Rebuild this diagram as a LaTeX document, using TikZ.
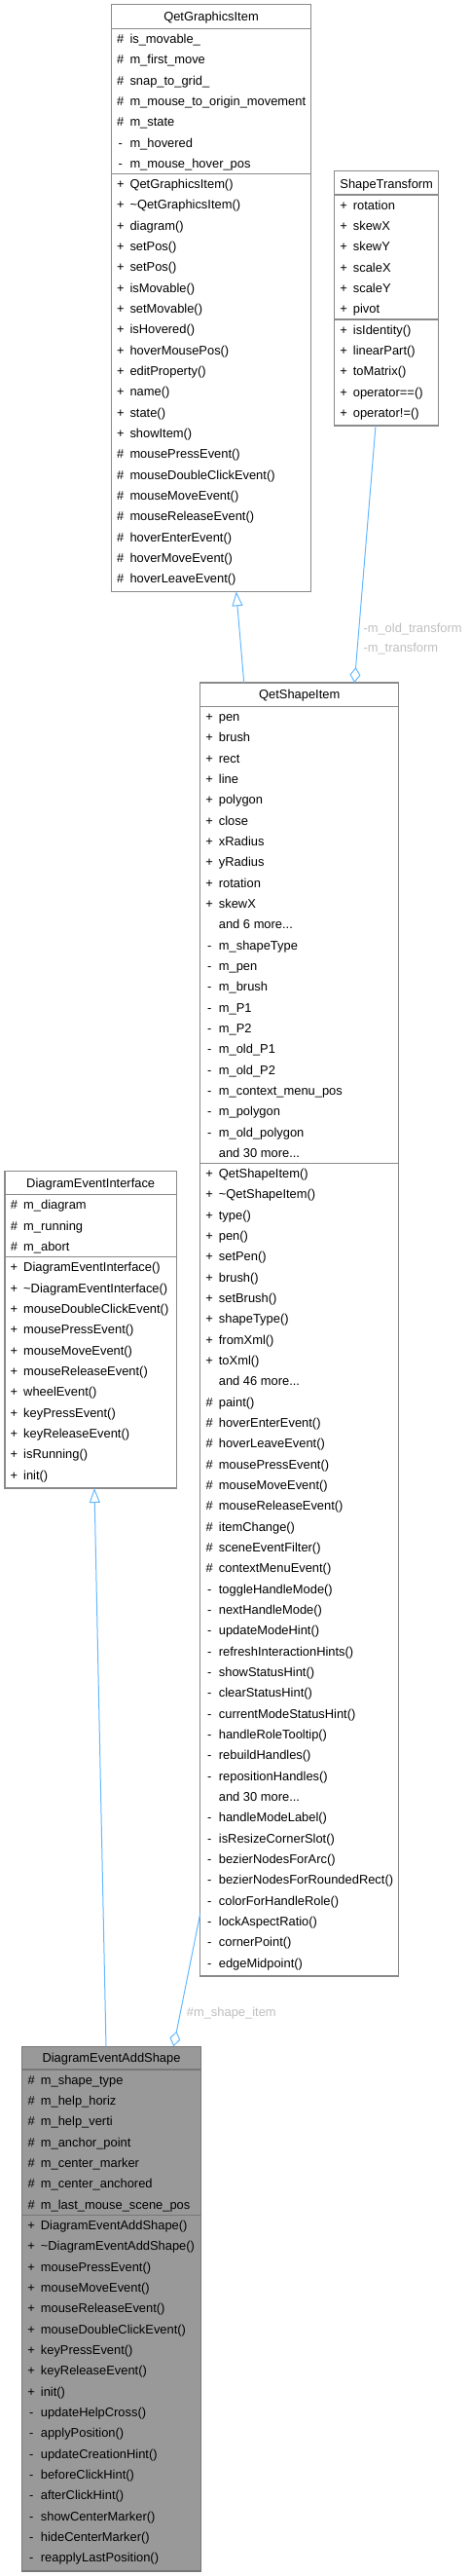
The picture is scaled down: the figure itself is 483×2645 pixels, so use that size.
\documentclass[tikz,border=0pt]{standalone}
\usepackage{fontspec}
\setmainfont{Liberation Sans}
\usetikzlibrary{arrows.meta,calc}
\definecolor{edgeblue}{HTML}{63B8FF}
\definecolor{bord}{HTML}{8A8A8A}
\definecolor{lblgray}{HTML}{BEBEBE}
\definecolor{focusfill}{HTML}{999999}
\definecolor{focusbord}{HTML}{777777}
\newcommand\umlbox[9]{% name, x1, y1, x2, y2, sep1, sep2, fill, border
  \node[classbox, fill=#8, draw=#9, minimum width={#4-#2}, minimum height={#5-#3}] (#1) at ({(#2+#4)/2},{(#3+#5)/2}) {};
  \draw[draw=#9, line width=1.3pt] (#1.west |- 0,#6) -- (#1.east |- 0,#6);
  \draw[draw=#9, line width=1.3pt] (#1.west |- 0,#7) -- (#1.east |- 0,#7);
}
\newcommand\umltitle[4]{% name, center x, center y, text
  \node[ttl] (#1) at (#2,{#3+4.6}) {#4};
}
\newcommand\umlrows[4]{% prefix, left x, start y, list
  \foreach \s/\t [count=\i from 0] in {#4} {
    \node[symtxt] (#1-s\i) at ({#2+9.5},{#3+\i*21.33+10.67+4.6}) {\s};
    \node[rowtxt] (#1-t\i) at ({#2+19},{#3+\i*21.33+10.67+4.6}) {\t};
  }
}
\begin{document}
\begin{tikzpicture}[x=1pt,y=-1pt,
  font=\fontsize{12.9}{15}\selectfont,
  classbox/.style={rectangle, inner sep=0pt, outer sep=0pt, line width=1.3pt},
  ttl/.style={anchor=base, inner sep=0pt, text=black},
  symtxt/.style={anchor=base, inner sep=0pt, text=black},
  rowtxt/.style={anchor=base west, inner sep=0pt, text=black},
  edgeline/.style={draw=edgeblue, line width=1pt},
  lbl/.style={anchor=base west, inner sep=0pt, text=lblgray}]
\useasboundingbox (0,0) rectangle (483,2645);

% QetGraphicsItem
\umlbox{qgi}{114.3}{4.7}{319.7}{607.3}{29.3}{178.3}{white}{bord}
\umltitle{qgi-title}{217}{17}{QetGraphicsItem}
\umlrows{qgia}{114.3}{29.3}{{\#}/{is\_movable\_},{\#}/{m\_first\_move},{\#}/{snap\_to\_grid\_},{\#}/{m\_mouse\_to\_origin\_movement},{\#}/{m\_state},{-}/{m\_hovered},{-}/{m\_mouse\_hover\_pos}}
\umlrows{qgim}{114.3}{178.3}{{+}/{QetGraphicsItem()},{+}/{\textasciitilde QetGraphicsItem()},{+}/{diagram()},{+}/{setPos()},{+}/{setPos()},{+}/{isMovable()},{+}/{setMovable()},{+}/{isHovered()},{+}/{hoverMousePos()},{+}/{editProperty()},{+}/{name()},{+}/{state()},{+}/{showItem()},{\#}/{mousePressEvent()},{\#}/{mouseDoubleClickEvent()},{\#}/{mouseMoveEvent()},{\#}/{mouseReleaseEvent()},{\#}/{hoverEnterEvent()},{\#}/{hoverMoveEvent()},{\#}/{hoverLeaveEvent()}}

% ShapeTransform
\umlbox{st}{343.7}{175.7}{450.7}{437}{200}{328}{white}{bord}
\umltitle{st-title}{397.2}{188.6}{ShapeTransform}
\umlrows{sta}{343.7}{200}{{+}/{rotation},{+}/{skewX},{+}/{skewY},{+}/{scaleX},{+}/{scaleY},{+}/{pivot}}
\umlrows{stm}{343.7}{328}{{+}/{isIdentity()},{+}/{linearPart()},{+}/{toMatrix()},{+}/{operator==()},{+}/{operator!=()}}

% QetShapeItem
\umlbox{qsi}{205.7}{701}{409.7}{2029}{725.3}{1194.3}{white}{bord}
\umltitle{qsi-title}{307.7}{713.2}{QetShapeItem}
\umlrows{qsia}{205.7}{725.3}{{+}/{pen},{+}/{brush},{+}/{rect},{+}/{line},{+}/{polygon},{+}/{close},{+}/{xRadius},{+}/{yRadius},{+}/{rotation},{+}/{skewX},{}/{and 6 more...},{-}/{m\_shapeType},{-}/{m\_pen},{-}/{m\_brush},{-}/{m\_P1},{-}/{m\_P2},{-}/{m\_old\_P1},{-}/{m\_old\_P2},{-}/{m\_context\_menu\_pos},{-}/{m\_polygon},{-}/{m\_old\_polygon},{}/{and 30 more...}}
\umlrows{qsim}{205.7}{1194.3}{{+}/{QetShapeItem()},{+}/{\textasciitilde QetShapeItem()},{+}/{type()},{+}/{pen()},{+}/{setPen()},{+}/{brush()},{+}/{setBrush()},{+}/{shapeType()},{+}/{fromXml()},{+}/{toXml()},{}/{and 46 more...},{\#}/{paint()},{\#}/{hoverEnterEvent()},{\#}/{hoverLeaveEvent()},{\#}/{mousePressEvent()},{\#}/{mouseMoveEvent()},{\#}/{mouseReleaseEvent()},{\#}/{itemChange()},{\#}/{sceneEventFilter()},{\#}/{contextMenuEvent()},{-}/{toggleHandleMode()},{-}/{nextHandleMode()},{-}/{updateModeHint()},{-}/{refreshInteractionHints()},{-}/{showStatusHint()},{-}/{clearStatusHint()},{-}/{currentModeStatusHint()},{-}/{handleRoleTooltip()},{-}/{rebuildHandles()},{-}/{repositionHandles()},{}/{and 30 more...},{-}/{handleModeLabel()},{-}/{isResizeCornerSlot()},{-}/{bezierNodesForArc()},{-}/{bezierNodesForRoundedRect()},{-}/{colorForHandleRole()},{-}/{lockAspectRatio()},{-}/{cornerPoint()},{-}/{edgeMidpoint()}}

% DiagramEventInterface
\umlbox{dei}{5}{1202.7}{181.3}{1528}{1226.7}{1290.7}{white}{bord}
\umltitle{dei-title}{93.2}{1214.7}{DiagramEventInterface}
\umlrows{deia}{5}{1226.7}{{\#}/{m\_diagram},{\#}/{m\_running},{\#}/{m\_abort}}
\umlrows{deim}{5}{1290.7}{{+}/{DiagramEventInterface()},{+}/{\textasciitilde DiagramEventInterface()},{+}/{mouseDoubleClickEvent()},{+}/{mousePressEvent()},{+}/{mouseMoveEvent()},{+}/{mouseReleaseEvent()},{+}/{wheelEvent()},{+}/{keyPressEvent()},{+}/{keyReleaseEvent()},{+}/{isRunning()},{+}/{init()}}

% DiagramEventAddShape
\umlbox{deas}{22.7}{2101.3}{206.3}{2640}{2125}{2274.3}{focusfill}{focusbord}
\umltitle{deas-title}{114.5}{2113.2}{DiagramEventAddShape}
\umlrows{deasa}{22.7}{2125}{{\#}/{m\_shape\_type},{\#}/{m\_help\_horiz},{\#}/{m\_help\_verti},{\#}/{m\_anchor\_point},{\#}/{m\_center\_marker},{\#}/{m\_center\_anchored},{\#}/{m\_last\_mouse\_scene\_pos}}
\umlrows{deasm}{22.7}{2274.3}{{+}/{DiagramEventAddShape()},{+}/{\textasciitilde DiagramEventAddShape()},{+}/{mousePressEvent()},{+}/{mouseMoveEvent()},{+}/{mouseReleaseEvent()},{+}/{mouseDoubleClickEvent()},{+}/{keyPressEvent()},{+}/{keyReleaseEvent()},{+}/{init()},{-}/{updateHelpCross()},{-}/{applyPosition()},{-}/{updateCreationHint()},{-}/{beforeClickHint()},{-}/{afterClickHint()},{-}/{showCenterMarker()},{-}/{hideCenterMarker()},{-}/{reapplyLastPosition()}}

% connectors
\draw[edgeline, -{Triangle[open, length=15pt, width=11pt]}]
  ($(qsi.north west)+(45,0)$) -- ($(qgi.south west)+(128.4,0)$);
\draw[edgeline, -{Diamond[open, length=16pt, width=11pt]}]
  ($(st.south west)+(42.3,0)$) -- ($(qsi.north west)+(158.6,0)$);
\draw[edgeline, -{Triangle[open, length=15pt, width=11pt]}]
  ($(deas.north west)+(86.3,0)$) -- ($(dei.south west)+(92,0)$);
\draw[edgeline, -{Diamond[open, length=16pt, width=11pt]}]
  ($(qsi.north west)+(0,1264)$) -- ($(deas.north west)+(155.6,0)$);

% labels
\node[lbl] (l-old) at (373.3,649.6) {-m\_old\_transform};
\node[lbl] (l-tr) at (373.3,669.6) {-m\_transform};
\node[lbl] (l-si) at (191.7,2070.3) {\#m\_shape\_item};
\end{tikzpicture}
\end{document}
